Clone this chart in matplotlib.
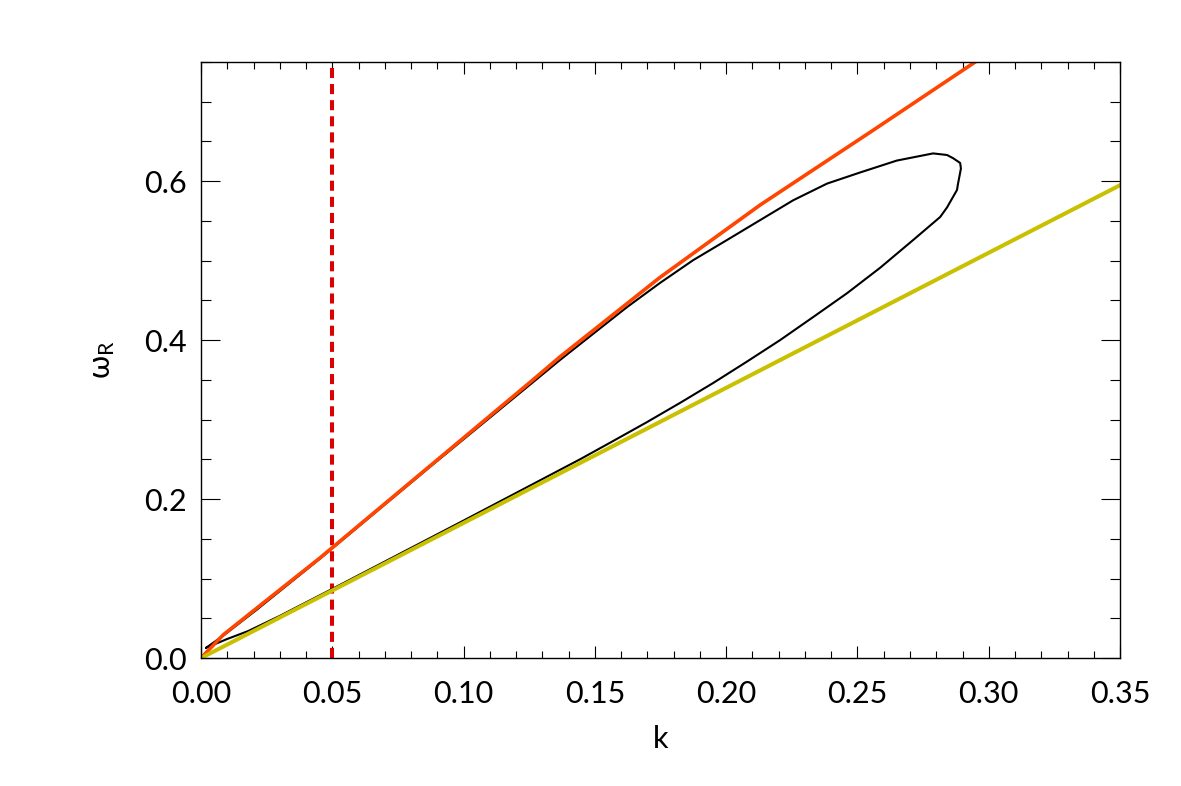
import matplotlib
matplotlib.use("Agg")
import matplotlib.pyplot as plt
from matplotlib.ticker import MultipleLocator, FormatStrFormatter

plt.rcParams['font.family'] = ['Lato', 'DejaVu Sans']
plt.rcParams['mathtext.fontset'] = 'dejavusans'

# curva nera (ramo superiore, punta, ramo inferiore)
k_nero = [0.002, 0.0084, 0.0213, 0.0453, 0.087, 0.1264, 0.1367, 0.1622, 0.1748, 0.1874,
          0.2003, 0.2129, 0.2255, 0.2384, 0.251, 0.265, 0.2788, 0.2841, 0.2864, 0.2891,
          0.2894, 0.2883, 0.2879, 0.2841, 0.2815, 0.2712, 0.2586, 0.246, 0.2331, 0.2205,
          0.2079, 0.195, 0.1824, 0.1699, 0.1569, 0.1443, 0.1, 0.05, 0.03, 0.018, 0.01, 0.002]
w_nero = [0.013, 0.028, 0.061, 0.125, 0.240, 0.347, 0.375, 0.4415, 0.472, 0.5006,
          0.526, 0.551, 0.576, 0.597, 0.611, 0.626, 0.635, 0.633, 0.629, 0.623,
          0.616, 0.597, 0.589, 0.567, 0.555, 0.526, 0.491, 0.459, 0.429, 0.400,
          0.373, 0.346, 0.321, 0.297, 0.273, 0.250, 0.173, 0.087, 0.053, 0.034, 0.024, 0.013]

# curva arancione
k_arancio = [0.0, 0.0084, 0.0213, 0.0453, 0.1264, 0.1367, 0.1748, 0.2129, 0.2559, 0.2948]
w_arancio = [0.0, 0.029, 0.063, 0.126, 0.350, 0.379, 0.479, 0.570, 0.664, 0.75]

# retta gialla
k_giallo = [0.0, 0.35]
w_giallo = [0.0, 0.595]

# linea verticale tratteggiata
k_taglio = 0.05

fig = plt.figure(figsize=(11.81, 7.86), dpi=100)
ax = fig.add_axes([0.1702, 0.1628, 0.9484 - 0.1702, 0.9211 - 0.1628])

ax.axvline(k_taglio, color='#DD0000', linewidth=2.9, linestyle=(0, (2.5, 1.5)))
ax.plot(k_nero, w_nero, color='black', linewidth=1.5)
ax.plot(k_arancio, w_arancio, color='#FF4500', linewidth=2.6)
ax.plot(k_giallo, w_giallo, color='#C8C000', linewidth=2.9)

ax.set_xlim(0, 0.35)
ax.set_ylim(0, 0.75)
ax.xaxis.set_major_locator(MultipleLocator(0.05))
ax.xaxis.set_minor_locator(MultipleLocator(0.01))
ax.yaxis.set_major_locator(MultipleLocator(0.2))
ax.yaxis.set_minor_locator(MultipleLocator(0.05))
ax.xaxis.set_major_formatter(FormatStrFormatter('%.2f'))
ax.yaxis.set_major_formatter(FormatStrFormatter('%.1f'))

ax.tick_params(axis='both', which='both', direction='in', top=True, right=True, width=0.8,
               labelsize=22)
ax.tick_params(axis='x', which='major', length=8.6, pad=16)
ax.tick_params(axis='x', which='minor', length=5)
ax.tick_params(axis='y', which='major', length=13.7, pad=10)
ax.tick_params(axis='y', which='minor', length=7)
for s in ax.spines.values():
    s.set_linewidth(1.0)

ax.set_xlabel('k', fontsize=22, labelpad=12)
ax.set_ylabel(r'$\mathregular{\omega_R}$', fontsize=22, labelpad=20)

fig.savefig("out.png", dpi=100)
